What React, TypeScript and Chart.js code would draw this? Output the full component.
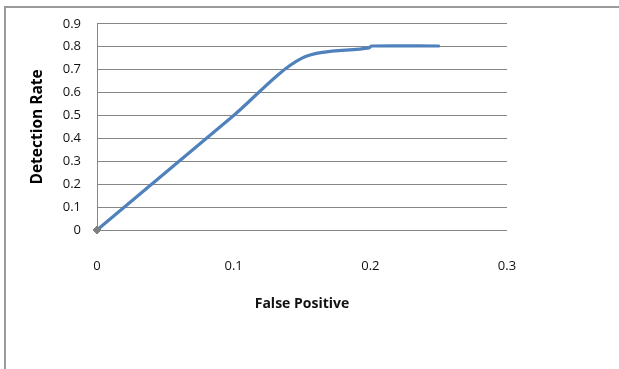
import React, { useEffect, useRef } from 'react';
import { Chart, registerables } from 'chart.js';

Chart.register(...registerables);

// Data (False Positive vs Detection Rate)
const falsePositive = [0, 0.1, 0.15, 0.199, 0.201, 0.25];
const detectionRate = [0, 0.5, 0.75, 0.795, 0.803, 0.803];
const markerRadius = [4, 0, 0, 0, 0, 0];

const xTickValues = [0, 0.1, 0.2, 0.3];
const yTickValues = [0, 0.1, 0.2, 0.3, 0.4, 0.5, 0.6, 0.7, 0.8, 0.9];

const xTitle = 'False Positive';
const yTitle = 'Detection Rate';

const fmt = (v: number) => String(Number(v.toFixed(2)));

export default function App() {
  const canvasRef = useRef<HTMLCanvasElement | null>(null);

  useEffect(() => {
    const canvas = canvasRef.current;
    if (!canvas) return;
    const chart = new Chart(canvas, {
      type: 'scatter',
      data: {
        datasets: [
          {
            label: 'Detection Rate',
            data: falsePositive.map((x, i) => ({ x, y: detectionRate[i] })),
            showLine: true,
            clip: false,
            borderColor: '#4f81bd',
            borderWidth: 3.2,
            borderCapStyle: 'round',
            borderJoinStyle: 'round',
            tension: 0.3,
            pointRadius: markerRadius,
            pointStyle: 'rectRot',
            pointBackgroundColor: '#7f7f7f',
            pointBorderColor: '#7f7f7f',
            pointBorderWidth: 1,
            fill: false,
          },
        ],
      },
      options: {
        responsive: false,
        animation: false,
        devicePixelRatio: 1,
        layout: { padding: { left: 0, top: 23, right: 112, bottom: 0 } },
        plugins: {
          legend: { display: false },
          tooltip: { enabled: false },
        },
        scales: {
          x: {
            type: 'linear',
            min: 0,
            max: 0.3,
            grid: { display: false, drawTicks: false },
            border: { display: false },
            afterBuildTicks: (scale: any) => {
              scale.ticks = xTickValues.map((v) => ({ value: v }));
            },
            afterFit: (scale: any) => {
              scale.height = 139;
            },
            ticks: {
              padding: 28,
              color: '#111',
              font: { family: 'Open Sans', size: 13 },
              callback: (v: any) => fmt(Number(v)),
              maxRotation: 0,
            },
            title: {
              display: true,
              text: xTitle,
              color: '#111',
              font: { family: 'Open Sans', size: 14, weight: 'bold' },
              padding: { top: 0, bottom: 56.6 },
            },
          },
          y: {
            type: 'linear',
            min: 0,
            max: 0.9,
            grid: { color: '#868686', lineWidth: 1, drawTicks: false },
            border: { display: true, color: '#868686', width: 1 },
            afterBuildTicks: (scale: any) => {
              scale.ticks = yTickValues.map((v) => ({ value: v }));
            },
            afterFit: (scale: any) => {
              scale.width = 97;
            },
            ticks: {
              padding: 16,
              color: '#111',
              font: { family: 'Open Sans', size: 13 },
              callback: (v: any) => fmt(Number(v)),
            },
            title: {
              display: true,
              text: yTitle,
              color: '#000',
              font: { family: 'Open Sans', size: 15.5, weight: 'bold' },
              padding: { top: 28, bottom: 0 },
            },
          },
        },
      } as any,
    });
    return () => chart.destroy();
  }, []);

  return (
    <div
      style={{
        position: 'fixed',
        left: 0,
        top: 0,
        width: 619,
        height: 369,
        background: '#fff',
        overflow: 'hidden',
      }}
    >
      <div
        style={{
          position: 'absolute',
          left: 4,
          top: 6,
          width: 620,
          height: 370,
          borderLeft: '2px solid #9a9a9a',
          borderTop: '2px solid #9a9a9a',
        }}
      />
      <canvas
        ref={canvasRef}
        width={619}
        height={369}
        style={{ position: 'absolute', left: 0, top: 0, width: 619, height: 369 }}
      />
    </div>
  );
}
